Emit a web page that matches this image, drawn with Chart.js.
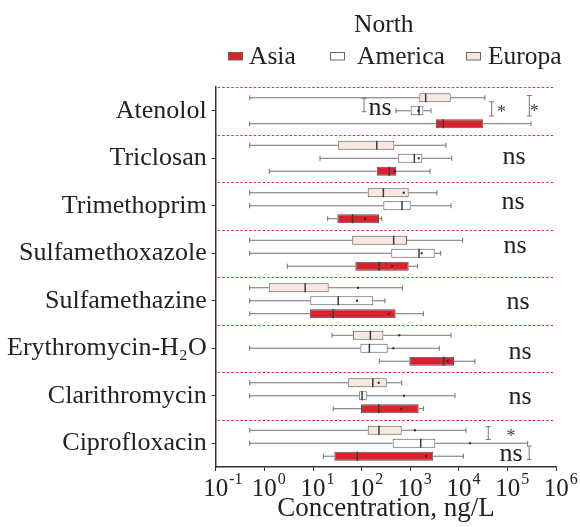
<!DOCTYPE html>
<html><head><meta charset="utf-8">
<script src="https://cdn.jsdelivr.net/npm/chart.js@4/dist/chart.umd.min.js"></script>
<style>html,body{margin:0;padding:0;background:#fff;}</style>
</head><body>
<canvas id="c" width="580" height="527"></canvas>
<script>
const categories = ['Atenolol','Triclosan','Trimethoprim','Sulfamethoxazole','Sulfamethazine','Erythromycin-H\u2082O','Clarithromycin','Ciprofloxacin'];
const regionNames = ['Europa','North America','Asia'];

// Europa
const europaMin    = [0.5, 0.5, 0.5, 0.5, 0.5, 24.5, 0.5, 0.5];
const europaQ1     = [1530, 33, 133, 64, 1.23, 66, 53, 133];
const europaMedian = [2070, 204, 279, 455, 6.9, 151, 169, 227];
const europaQ3     = [6760, 469, 925, 853, 21, 279, 327, 665];
const europaMax    = [34200, 5400, 3530, 11900, 684, 6850, 665, 13900];
const europaMean   = [null, null, 731, null, 84, 594, 224, 1250];
// North America
const naMin    = [507, 13.9, 0.5, 0.5, 0.5, 0.5, 0.5, 0.5];
const naQ1     = [1016, 566, 279, 406, 8.8, 94, 89, 433];
const naMedian = [1507, 1208, 675, 1507, 33, 144, 102, 1633];
const naQ3     = [1850, 1763, 1016, 3160, 173, 343, 127, 3260];
const naMax    = [2660, 7080, 6850, 4210, 301, 3940, 8280, 258000];
const naMean   = [1460, 1486, null, 1710, 80, 447, 741, 16800];
// Asia
const asiaMin    = [0.5, 1.26, 20, 2.96, 0.5, 231, 26, 16.3];
const asiaQ1     = [3365, 204, 31.6, 74, 8.7, 953, 97, 27.4];
const asiaMedian = [4760, 370, 65, 227, 26, 4850, 224, 81];
const asiaQ3     = [31600, 507, 227, 925, 500, 7890, 1486, 2970];
const asiaMax    = [302000, 2540, 258, 1415, 1850, 21300, 1850, 12300];
const asiaMean   = [null, 480, 117, 426, 359, 5860, 653, 2100];

const xTickValues = [0.1, 1, 10, 100, 1e3, 1e4, 1e5, 1e6];
const xTickBase = '10';
const xTickExponents = ['-1', '0', '1', '2', '3', '4', '5', '6'];

// significance text: category index, x value, offset in category units
const sigText = [
  {cat:0, x:238, dy:-0.03, text:'ns', big:true},
  {cat:1, x:1.35e5, dy:0, text:'ns', big:true},
  {cat:2, x:1.29e5, dy:-0.05, text:'ns', big:true},
  {cat:3, x:1.42e5, dy:-0.12, text:'ns', big:true},
  {cat:4, x:1.63e5, dy:0.05, text:'ns', big:true},
  {cat:5, x:1.8e5, dy:0.10, text:'ns', big:true},
  {cat:6, x:1.8e5, dy:0.05, text:'ns', big:true},
  {cat:7, x:1.17e5, dy:0.25, text:'ns', big:true},
  {cat:0, x:75000, dy:-0.037, text:'*', big:false},
  {cat:0, x:353000, dy:-0.058, text:'*', big:false},
  {cat:7, x:1.17e5, dy:-0.21, text:'*', big:false}
];
const sigBrackets = [
  {cat:0, x:112, y0:-0.26, y1:0.02},
  {cat:0, x:47000, y0:-0.19, y1:0.11},
  {cat:0, x:279000, y0:-0.32, y1:0.11},
  {cat:7, x:40000, y0:-0.35, y1:-0.08},
  {cat:7, x:277000, y0:0.06, y1:0.34}
];

const fills = ['#f8e7df', '#ffffff', '#d8232f'];
const stats = [
  {min:europaMin, q1:europaQ1, med:europaMedian, q3:europaQ3, max:europaMax, mean:europaMean},
  {min:naMin, q1:naQ1, med:naMedian, q3:naQ3, max:naMax, mean:naMean},
  {min:asiaMin, q1:asiaQ1, med:asiaMedian, q3:asiaQ3, max:asiaMax, mean:asiaMean}
];

const FONT = "'Liberation Serif', 'Times New Roman', serif";

const boxPlugin = {
  id: 'boxExtras',
  beforeDatasetsDraw(chart) {
    const {ctx, chartArea, scales} = chart;
    const x = scales.x, y = scales.y;
    const step = y.getPixelForValue(1) - y.getPixelForValue(0);
    ctx.save();
    ctx.strokeStyle = '#e8302a';
    ctx.lineWidth = 1;
    ctx.setLineDash([2.5, 2]);
    for (let i = 0; i < categories.length; i++) {
      const py = Math.round(y.getPixelForValue(i) - step / 2) + 0.5;
      ctx.beginPath(); ctx.moveTo(chartArea.left + 2, py); ctx.lineTo(chartArea.right - 1, py); ctx.stroke();
    }
    ctx.setLineDash([]);
    // whiskers
    ctx.strokeStyle = '#707070';
    ctx.lineWidth = 1;
    stats.forEach((s, di) => {
      const meta = chart.getDatasetMeta(di);
      meta.data.forEach((el, i) => {
        const cy = el.y;
        const xl = x.getPixelForValue(s.min[i]);
        const xq1 = x.getPixelForValue(s.q1[i]);
        const xq3 = x.getPixelForValue(s.q3[i]);
        const xr = x.getPixelForValue(s.max[i]);
        ctx.beginPath();
        ctx.moveTo(xl, cy); ctx.lineTo(xq1, cy);
        ctx.moveTo(xq3, cy); ctx.lineTo(xr, cy);
        ctx.moveTo(xl, cy - 2.5); ctx.lineTo(xl, cy + 2.5);
        ctx.moveTo(xr, cy - 2.5); ctx.lineTo(xr, cy + 2.5);
        ctx.stroke();
      });
    });
    ctx.restore();
  },
  afterDatasetsDraw(chart) {
    const {ctx, scales} = chart;
    const x = scales.x, y = scales.y;
    const step = y.getPixelForValue(1) - y.getPixelForValue(0);
    ctx.save();
    stats.forEach((s, di) => {
      const meta = chart.getDatasetMeta(di);
      meta.data.forEach((el, i) => {
        const cy = el.y, h = el.height;
        const xm = x.getPixelForValue(s.med[i]);
        ctx.strokeStyle = '#3a3a3a';
        ctx.lineWidth = 1.5;
        ctx.beginPath(); ctx.moveTo(xm, cy - h / 2); ctx.lineTo(xm, cy + h / 2); ctx.stroke();
        if (s.mean[i] != null) {
          const xa = x.getPixelForValue(s.mean[i]);
          ctx.fillStyle = '#222';
          ctx.fillRect(xa - 1, cy - 1, 2, 2);
        }
      });
    });
    // significance brackets
    ctx.strokeStyle = '#777';
    ctx.lineWidth = 1;
    sigBrackets.forEach(b => {
      const bx = x.getPixelForValue(b.x);
      const y0 = y.getPixelForValue(b.cat) + b.y0 * step;
      const y1 = y.getPixelForValue(b.cat) + b.y1 * step;
      ctx.beginPath();
      ctx.moveTo(bx, y0); ctx.lineTo(bx, y1);
      ctx.moveTo(bx - 2.5, y0); ctx.lineTo(bx + 2.5, y0);
      ctx.moveTo(bx - 2.5, y1); ctx.lineTo(bx + 2.5, y1);
      ctx.stroke();
    });
    ctx.textAlign = 'center';
    ctx.textBaseline = 'alphabetic';
    sigText.forEach(t => {
      const fs = t.big ? 26 : 18;
      ctx.font = fs + 'px ' + FONT;
      ctx.fillStyle = t.big ? '#222' : '#444';
      const tx = x.getPixelForValue(t.x);
      const ty = y.getPixelForValue(t.cat) + t.dy * step;
      const base = t.big ? ty + 0.225 * fs : ty + 0.5 * fs;
      ctx.fillText(t.text, tx, base);
    });
    ctx.restore();
  },
  afterDraw(chart) {
    const ctx = chart.ctx;
    const x = chart.scales.x;
    ctx.save();
    // x tick labels: 10 with superscript exponent
    ctx.fillStyle = '#222';
    ctx.textBaseline = 'alphabetic';
    xTickValues.forEach((v, i) => {
      const px = x.getPixelForValue(v);
      ctx.font = '25px ' + FONT;
      ctx.textAlign = 'center';
      ctx.fillText(xTickBase, px, x.top + 29);
      const w = ctx.measureText(xTickBase).width;
      ctx.font = '16px ' + FONT;
      ctx.textAlign = 'left';
      ctx.fillText(xTickExponents[i], px + w / 2 + 1, x.top + 17);
    });
    // legend
    ctx.font = '25.5px ' + FONT;
    ctx.textAlign = 'left';
    const items = [
      {name:'Asia', fill:fills[2], sx:228, tx:249},
      {name:'America', fill:fills[1], sx:330, tx:357},
      {name:'Europa', fill:fills[0], sx:466, tx:488}
    ];
    items.forEach(it => {
      ctx.fillStyle = it.fill;
      ctx.fillRect(it.sx, 52, 15, 8);
      ctx.strokeStyle = '#666';
      ctx.lineWidth = 1;
      ctx.strokeRect(it.sx + 0.5, 52.5, 14, 7.5);
      ctx.fillStyle = '#222';
      ctx.fillText(it.name, it.tx, 63.5);
    });
    ctx.fillText('North', 354, 32);
    ctx.restore();
  }
};

new Chart(document.getElementById('c'), {
  type: 'bar',
  data: {
    labels: categories,
    datasets: stats.map((s, di) => ({
      label: regionNames[di],
      data: s.q1.map((q, i) => [q, s.q3[i]]),
      backgroundColor: fills[di],
      borderColor: '#555',
      borderWidth: 1,
      borderSkipped: false,
      categoryPercentage: 0.82,
      barPercentage: 0.69
    }))
  },
  options: {
    indexAxis: 'y',
    responsive: false,
    animation: false,
    layout: {padding: {top: 87, right: 23.7, left: 0, bottom: 0}},
    plugins: {legend: {display: false}, tooltip: {enabled: false}},
    scales: {
      x: {
        type: 'logarithmic', position: 'bottom', min: 0.1, max: 1e6,
        afterBuildTicks: (s) => { s.ticks = xTickValues.map(v => ({value: v, major: true})); },
        ticks: {display: false},
        grid: {display: true, drawOnChartArea: false, drawTicks: true, tickLength: 4, color: '#333'},
        border: {display: true, color: '#333', width: 1.5},
        title: {display: true, text: 'Concentration, ng/L', font: {family: FONT, size: 27}, color: '#222', padding: {top: 0, bottom: 2}},
        afterFit: (s) => { s.height = 60; }
      },
      y: {
        type: 'category', offset: true,
        grid: {display: true, offset: false, drawOnChartArea: false, drawTicks: true, tickLength: 4, color: '#333'},
        border: {display: true, color: '#333', width: 1.5},
        ticks: {font: {family: FONT, size: 26}, color: '#222', padding: 5, autoSkip: false},
        afterFit: (s) => { s.width = 215.7; }
      }
    }
  },
  plugins: [boxPlugin]
});
</script>
</body></html>
